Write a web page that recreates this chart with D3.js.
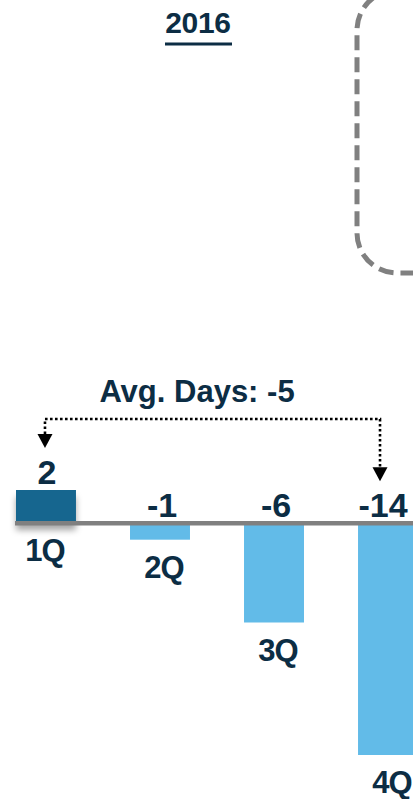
<!DOCTYPE html>
<html>
<head>
<meta charset="utf-8">
<script src="https://cdn.jsdelivr.net/npm/d3@7"></script>
<style>
  html, body { margin: 0; padding: 0; background: #fff; overflow: hidden; }
  svg { display: block; }
  text { font-family: "Liberation Sans", Arial, sans-serif; font-weight: bold; fill: #0c2d44; }
</style>
</head>
<body>
<svg id="chart" width="413" height="799"></svg>
<script>
const title = "2016";
const categories = ["1Q", "2Q", "3Q", "4Q"];
const values = [2, -1, -6, -14];
const avgLabel = "Avg. Days: ";
const avgDays = -5;

const W = 413, H = 799;
const svg = d3.select("#chart");

const defs = svg.append("defs");
const f = defs.append("filter").attr("id", "shadow")
  .attr("x", "-20%").attr("y", "-20%").attr("width", "140%").attr("height", "160%");
f.append("feDropShadow").attr("dx", 0).attr("dy", 7).attr("stdDeviation", 3)
  .attr("flood-color", "#000").attr("flood-opacity", 0.35);

// Title
svg.append("text").attr("x", 198).attr("y", 33).attr("text-anchor", "middle")
  .attr("font-size", 30).attr("letter-spacing", -0.3).text(title);
svg.append("rect").attr("x", 165).attr("y", 42.5).attr("width", 67).attr("height", 3).attr("fill", "#0c2d44");

// Dashed rounded box on right
svg.append("rect").attr("x", 357).attr("y", -10).attr("width", 200).attr("height", 283)
  .attr("rx", 40).attr("ry", 40).attr("fill", "none")
  .attr("stroke", "#808080").attr("stroke-width", 5).attr("stroke-dasharray", "15 7");

// Scales
const x = d3.scaleBand().domain(categories).range([16, 418]).paddingInner(0.474).paddingOuter(0);
const y = d3.scaleLinear().domain([-14, 2]).range([755, 490]);
const y0 = y(0);

// Bars
svg.selectAll("rect.bar").data(values).join("rect")
  .attr("class", "bar")
  .attr("x", (d, i) => x(categories[i]))
  .attr("width", x.bandwidth())
  .attr("y", d => Math.min(y(d), y0))
  .attr("height", d => Math.abs(y(d) - y0))
  .attr("fill", d => d > 0 ? "#17668f" : "#62bbe8")
  .attr("filter", d => d > 0 ? "url(#shadow)" : null);

// Axis line
svg.append("line").attr("x1", 15).attr("x2", W).attr("y1", y0).attr("y2", y0)
  .attr("stroke", "#808080").attr("stroke-width", 4.5);

// Value labels
const cx = c => x(c) + x.bandwidth() / 2;
svg.selectAll("text.val").data(values).join("text")
  .attr("class", "val")
  .attr("x", (d, i) => cx(categories[i]) + (i === 0 ? 1 : (i === 3 ? -5 : 2)))
  .attr("y", d => Math.min(y(d), y0) - 6)
  .attr("text-anchor", "middle").attr("font-size", 34)
  .text(d => d);

// Category labels
svg.selectAll("text.cat").data(values).join("text")
  .attr("class", "cat")
  .attr("x", (d, i) => cx(categories[i]) + (i === 0 ? -1 : 4))
  .attr("y", d => Math.max(y(d), y0) + 38)
  .attr("text-anchor", "middle").attr("font-size", 31).attr("letter-spacing", -1)
  .text((d, i) => categories[i]);

// Average annotation
const xL = cx(categories[0]) - 1;
const xR = cx(categories[3]) - 8;
const yTop = 419;
const tipL = Math.min(y(values[0]), y0) - 6 - 25 - 11;
const tipR = y0 - 6 - 25 - 11;
const headH = 14, headW = 7.5;

svg.append("path")
  .attr("d", `M${xL},${tipL - headH} V${yTop} H${xR} V${tipR - headH}`)
  .attr("fill", "none").attr("stroke", "#000").attr("stroke-width", 2.6)
  .attr("stroke-dasharray", "2.6 2.4");

[[xL, tipL], [xR, tipR]].forEach(([ax, ay]) => {
  svg.append("path")
    .attr("d", `M${ax - headW},${ay - headH} L${ax + headW},${ay - headH} L${ax},${ay} Z`)
    .attr("fill", "#000");
});

svg.append("text").attr("x", 197).attr("y", 402).attr("text-anchor", "middle")
  .attr("font-size", 31).text(avgLabel + avgDays);
</script>
</body>
</html>
